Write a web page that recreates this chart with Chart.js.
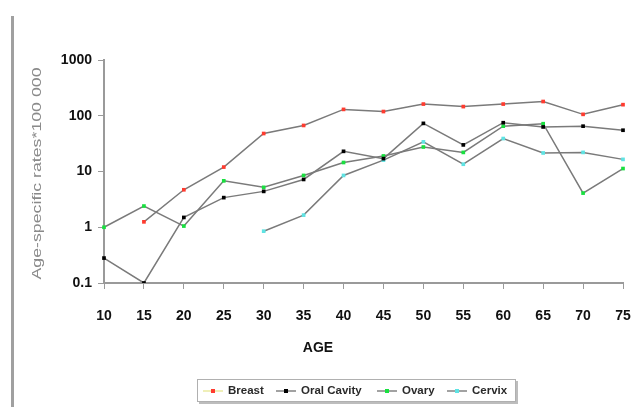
<!DOCTYPE html>
<html>
<head>
<meta charset="utf-8">
<script src="https://cdn.jsdelivr.net/npm/chart.js@4.4.1/dist/chart.umd.min.js"></script>
<style>
  html, body { margin: 0; padding: 0; background: #ffffff; }
  #wrap { position: relative; width: 634px; height: 407px; }
</style>
</head>
<body>
<div id="wrap"><canvas id="chart" width="634" height="407"></canvas></div>
<script>
// Age groups (years)
const ages = ['10', '15', '20', '25', '30', '35', '40', '45', '50', '55', '60', '65', '70', '75'];

// Age-specific incidence rates per 100 000, by cancer site
const breast     = [null, 1.25, 4.7, 12, 48, 67, 130, 119, 162, 146, 162, 180, 106, 158];
const oralCavity = [0.28, 0.1, 1.5, 3.4, 4.4, 7.2, 23, 17, 73, 30, 75, 63, 65, 55];
const ovary      = [1.0, 2.4, 1.05, 6.8, 5.2, 8.5, 14.5, 19, 27.5, 22, 65, 72, 4.1, 11.3];
const cervix     = [null, null, null, null, 0.85, 1.65, 8.5, 16, 34, 13.5, 39, 21.5, 22, 16.5];

const seriesNames  = ['Breast', 'Oral Cavity', 'Ovary', 'Cervix'];
const markerColors = ['#ff3b2f', '#000000', '#19e040', '#5fe3e3'];

// Log-axis tick values
const yTicks = [0.1, 1, 10, 100, 1000];

const lineColor = '#7a7a7a';
const axisColor = '#9a9a9a';

function makeSet(label, data, color) {
  return {
    label: label,
    data: data,
    borderColor: lineColor,
    borderWidth: 1.5,
    pointStyle: 'rect',
    pointRadius: 2.6,
    pointBackgroundColor: color,
    pointBorderColor: color,
    pointBorderWidth: 0,
    tension: 0,
    spanGaps: false
  };
}

// Frame, axis titles and legend drawn onto the canvas
const decor = {
  id: 'decor',
  afterDraw(chart) {
    const ctx = chart.ctx;
    const area = chart.chartArea;
    ctx.save();

    // left border of the chart frame
    ctx.fillStyle = '#a0a0a0';
    ctx.fillRect(11, 16, 3, chart.height - 16);

    // y-axis title
    ctx.save();
    ctx.translate(37, (area.top + area.bottom) / 2 + 2);
    ctx.rotate(-Math.PI / 2);
    ctx.font = '13px "Liberation Sans", Arial, sans-serif';
    ctx.fillStyle = '#8a8a8a';
    ctx.textAlign = 'center';
    ctx.textBaseline = 'middle';
    const yTitle = 'Age-specific rates*100 000';
    const w = ctx.measureText(yTitle).width;
    ctx.scale(212 / w, 1);
    ctx.fillText(yTitle, 0, 0);
    ctx.restore();

    // x-axis title
    ctx.font = 'bold 14px "Liberation Sans", Arial, sans-serif';
    ctx.fillStyle = '#111111';
    ctx.textAlign = 'center';
    ctx.textBaseline = 'middle';
    ctx.fillText('AGE', 318, 348);

    // legend box
    const bx = 197, by = 379, bw = 319, bh = 23;
    ctx.fillStyle = '#bdbdbd';
    ctx.fillRect(bx + 2, by + 2, bw, bh);
    ctx.fillStyle = '#ffffff';
    ctx.fillRect(bx, by, bw, bh);
    ctx.strokeStyle = '#b0b0b0';
    ctx.lineWidth = 1;
    ctx.strokeRect(bx + 0.5, by + 0.5, bw - 1, bh - 1);

    const starts = [203, 276, 377, 447];
    ctx.font = 'bold 11.5px "Liberation Sans", Arial, sans-serif';
    ctx.textAlign = 'left';
    ctx.textBaseline = 'middle';
    const cy = by + bh / 2 + 0.5;
    chart.data.datasets.forEach((ds, i) => {
      const x0 = starts[i];
      ctx.strokeStyle = i === 0 ? '#e8e89a' : lineColor;
      ctx.lineWidth = 1.4;
      ctx.beginPath();
      ctx.moveTo(x0, cy);
      ctx.lineTo(x0 + 20, cy);
      ctx.stroke();
      ctx.fillStyle = ds.pointBackgroundColor;
      ctx.fillRect(x0 + 8, cy - 2, 4, 4);
      ctx.fillStyle = '#2a2a2a';
      ctx.fillText(ds.label, x0 + 25, cy);
    });

    ctx.restore();
  }
};

new Chart(document.getElementById('chart'), {
  type: 'line',
  data: {
    labels: ages,
    datasets: [
      makeSet(seriesNames[0], breast, markerColors[0]),
      makeSet(seriesNames[1], oralCavity, markerColors[1]),
      makeSet(seriesNames[2], ovary, markerColors[2]),
      makeSet(seriesNames[3], cervix, markerColors[3])
    ]
  },
  options: {
    responsive: false,
    animation: false,
    events: [],
    layout: { padding: { top: 60, right: 11, left: 0, bottom: 0 } },
    plugins: {
      legend: { display: false },
      tooltip: { enabled: false },
      title: { display: false }
    },
    scales: {
      x: {
        type: 'category',
        offset: false,
        border: { color: axisColor, width: 2 },
        grid: { drawOnChartArea: false, drawTicks: true, tickLength: 6, color: axisColor, lineWidth: 1 },
        ticks: {
          color: '#111111',
          font: { family: '"Liberation Sans", Arial, sans-serif', size: 14, weight: 'bold' },
          padding: 19,
          maxRotation: 0,
          autoSkip: false
        },
        afterFit(scale) {
          scale.height = 124;
          scale.paddingLeft = 0;
          scale.paddingRight = 0;
        }
      },
      y: {
        type: 'logarithmic',
        min: 0.1,
        max: 1000,
        border: { color: axisColor, width: 2 },
        grid: { drawOnChartArea: false, drawTicks: true, tickLength: 6, color: axisColor, lineWidth: 1 },
        afterBuildTicks(scale) {
          scale.ticks = yTicks.map(v => ({ value: v }));
        },
        ticks: {
          color: '#111111',
          font: { family: '"Liberation Sans", Arial, sans-serif', size: 14, weight: 'bold' },
          padding: 6,
          callback: (v) => String(v)
        },
        afterFit(scale) {
          scale.width = 104;
          scale.paddingTop = 0;
          scale.paddingBottom = 0;
        }
      }
    }
  },
  plugins: [decor]
});
</script>
</body>
</html>
